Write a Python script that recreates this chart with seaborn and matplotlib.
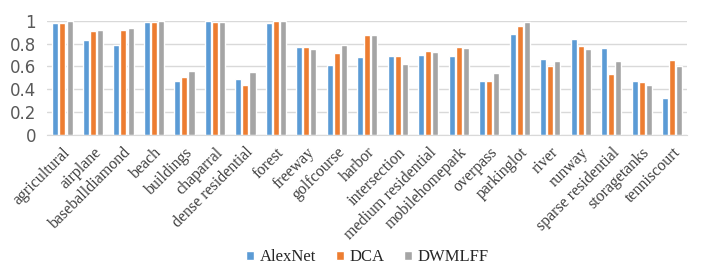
import numpy as np
import pandas as pd
import matplotlib.pyplot as plt
import seaborn as sns

categories = ['agricultural', 'airplane', 'baseballdiamond', 'beach', 'buildings', 'chaparral',
              'dense residential', 'forest', 'freeway', 'golfcourse', 'harbor', 'intersection',
              'medium residential', 'mobilehomepark', 'overpass', 'parkinglot', 'river', 'runway',
              'sparse residential', 'storagetanks', 'tenniscourt']
alexnet = [0.98, 0.83, 0.79, 0.99, 0.47, 1.00, 0.49, 0.98, 0.77, 0.61, 0.68, 0.69,
           0.70, 0.69, 0.47, 0.89, 0.67, 0.84, 0.76, 0.47, 0.32]
dca = [0.98, 0.91, 0.92, 0.99, 0.51, 0.99, 0.44, 1.00, 0.77, 0.72, 0.88, 0.69,
       0.74, 0.77, 0.47, 0.96, 0.60, 0.78, 0.53, 0.46, 0.66]
dwmlff = [1.00, 0.92, 0.94, 1.00, 0.56, 0.99, 0.55, 1.00, 0.75, 0.79, 0.88, 0.62,
          0.73, 0.76, 0.54, 0.99, 0.65, 0.75, 0.65, 0.44, 0.60]
methods = ['AlexNet', 'DCA', 'DWMLFF']

df = pd.DataFrame({'AlexNet': alexnet, 'DCA': dca, 'DWMLFF': dwmlff}, index=categories)
df = df.reset_index(names='category').melt(id_vars='category', var_name='method', value_name='acc')

sns.set_style('white')
palette = {'AlexNet': '#5B9BD5', 'DCA': '#ED7D31', 'DWMLFF': '#A5A5A5'}

fig, ax = plt.subplots(figsize=(7.05, 2.77), dpi=100)
fig.subplots_adjust(left=0.067, right=0.975, top=0.924, bottom=0.514)

sns.barplot(data=df, x='category', y='acc', hue='method', hue_order=methods,
            palette=palette, width=0.7, gap=0.15, saturation=1, ax=ax)

ax.set(xlabel=None, ylabel=None, ylim=(0, 1), xlim=(-0.5, len(categories) - 0.5))
ax.set_yticks(np.arange(0, 1.01, 0.2), labels=['0', '0.2', '0.4', '0.6', '0.8', '1'])
ax.yaxis.grid(True, color='#D9D9D9', lw=1)
ax.set_axisbelow(True)
for s in ['top', 'right', 'left']:
    ax.spines[s].set_visible(False)
ax.spines['bottom'].set_color('#D9D9D9')
ax.tick_params(axis='y', length=0, labelsize=12, labelcolor='#595959', pad=8)
ax.tick_params(axis='x', length=0, pad=7)
ax.set_xticks(range(len(categories)))
ax.set_xticklabels(categories, rotation=45, ha='right', rotation_mode='anchor',
                   fontsize=11.5, family='Liberation Serif', color='#404040')

ax.legend(loc='center', bbox_to_anchor=(0.5, -1.08), ncol=3, frameon=False,
          prop={'family': 'Liberation Serif', 'size': 12}, handlelength=0.5, handleheight=0.5,
          handletextpad=0.3, columnspacing=1.2)

plt.savefig('out.png', dpi=100)
